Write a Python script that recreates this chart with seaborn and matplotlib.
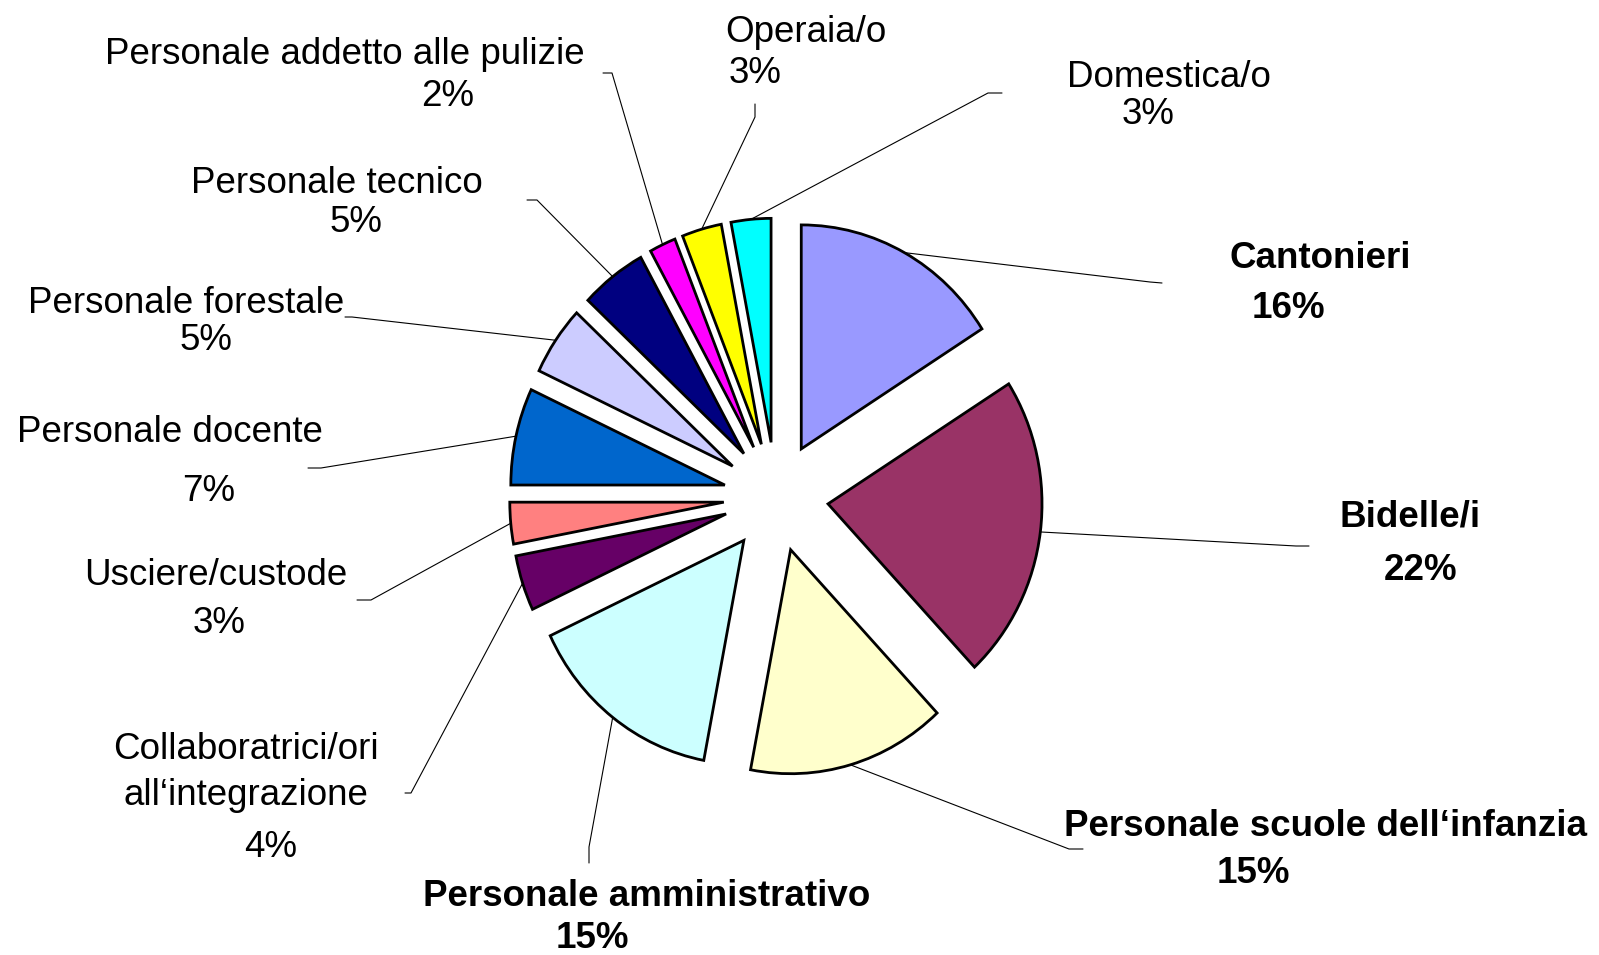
import numpy as np
import matplotlib
matplotlib.use("Agg")
import matplotlib.pyplot as plt
import seaborn as sns

# data
categories = ["Cantonieri", "Bidelle/i", "Personale scuole dell‘infanzia",
              "Personale amministrativo", "Collaboratrici/ori\nall‘integrazione",
              "Usciere/custode", "Personale docente", "Personale forestale",
              "Personale tecnico", "Personale addetto alle pulizie",
              "Operaia/o", "Domestica/o"]
shares = [16, 22, 15, 15, 4, 3, 7, 5, 5, 2, 3, 3]
colors = ["#9999FF", "#993366", "#FFFFCC", "#CCFFFF", "#660066", "#FF8080",
          "#0066CC", "#CCCCFF", "#000080", "#FF00FF", "#FFFF00", "#00FFFF"]
is_bold = [True, True, True, True] + [False] * 8

# layout in pixels (figure is 1599x955): name x, name baseline, pct x, pct baseline
label_pos = [(1320, 268, 1288, 318), (1410, 526, 1421, 580), (1326, 836, 1253, 883),
             (647, 906, 592, 948), (246, 759, 271, 857), (216, 585, 219, 633),
             (170, 442, 209, 501), (186, 313, 206, 350), (337, 193, 356, 232),
             (345, 64, 448, 106), (806, 42, 755, 83), (1169, 87, 1148, 124)]
# leader lines: elbow point then tail end (pixels)
leader = [((1150, 282), (1162, 283)), ((1296, 546), (1309, 546)),
          ((1069, 849), (1083, 849)), ((589, 847), (589, 863)),
          ((411, 793), (405, 793)), ((371, 600), (357, 600)),
          ((321, 468), (308, 468)), ((352, 317), (345, 317)),
          ((537, 200), (527, 200)), ((612, 73), (603, 73)),
          ((755, 117), (755, 104)), ((988, 93), (1002, 93))]

W, H = 1599, 955
CX, CY = 776, 497    # pie centre in pixels
RX, RY = 214, 224    # pixels per unit radius


def to_data(px, py):
    return (px - CX) / RX, (CY - py) / RY


sns.set_style("white")
plt.rcParams["font.family"] = ["Liberation Sans", "DejaVu Sans"]

fig = plt.figure(figsize=(W / 100, H / 100), dpi=100)
ax = fig.add_axes([0, 0, 1, 1])

wedges, _ = ax.pie(shares, colors=sns.color_palette(colors), startangle=90,
                   counterclock=False, explode=[0.245] * len(shares), radius=1,
                   wedgeprops=dict(edgecolor="black", linewidth=2))
ax.set_aspect("auto")
ax.set_xlim(-CX / RX, (W - CX) / RX)
ax.set_ylim(-(H - CY) / RY, CY / RY)
ax.axis("off")

for w, name, share, bold, pos, (elbow, tail) in zip(wedges, categories, shares,
                                                    is_bold, label_pos, leader):
    theta = np.deg2rad((w.theta1 + w.theta2) / 2)
    cx, cy = w.center
    mx, my = cx + np.cos(theta) * w.r, cy + np.sin(theta) * w.r
    ex, ey = to_data(*elbow)
    tx, ty = to_data(*tail)
    ax.plot([mx, ex, tx], [my, ey, ty], color="black", lw=0.8, zorder=0)

    weight = "bold" if bold else "normal"
    nx, ny, ppx, ppy = pos
    for i, line in enumerate(name.split("\n")):
        x, y = to_data(nx, ny + 46 * i)
        ax.text(x, y, line, ha="center", va="baseline", fontsize=26.5,
                fontweight=weight, color="black")
    x, y = to_data(ppx, ppy)
    ax.text(x, y, f"{share}%", ha="center", va="baseline", fontsize=26.5,
            fontweight=weight, color="black")

fig.savefig("out.png", dpi=100)
